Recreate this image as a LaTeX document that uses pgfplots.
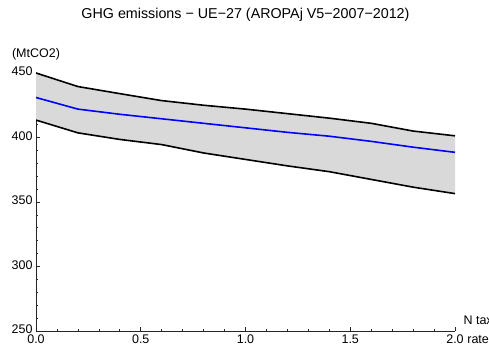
\documentclass[border=0pt]{standalone}
\usepackage{fontspec}
\setmainfont{Liberation Sans}
\usepackage{pgfplots}
\usepackage{pgfplotstable}
\pgfplotsset{compat=1.18}
\usepgfplotslibrary{fillbetween}
\pgfplotstableread{
x    up     mid    low
0.0  450.0  431.0  413.5
0.2  439.5  422.0  403.6
0.4  434.0  418.0  398.5
0.6  428.6  414.5  394.5
0.8  425.0  411.0  388.0
1.0  422.0  407.5  383.0
1.2  418.5  404.0  378.0
1.4  415.0  401.0  373.5
1.6  411.0  397.0  367.5
1.8  405.0  392.5  361.5
2.0  401.3  388.5  356.5
}\data
\begin{document}
\begin{tikzpicture}
\begin{axis}[
  at={(36pt,19pt)}, anchor=south west,
  scale only axis, width=419pt, height=258pt,
  set layers,
  xmin=0, xmax=2, ymin=250, ymax=450,
  axis x line*=bottom, axis y line*=left,
  axis line style={line width=0.9pt, black!85},
  xtick={0,0.5,1,1.5,2}, minor x tick num=4,
  ytick={250,300,350,400,450}, minor y tick num=4,
  major tick length=4pt, minor tick length=2.3pt,
  every tick/.style={black!85, line width=0.7pt},
  tick align=inside,
  tick label style={font=\fontsize{12.5}{14}\selectfont},
  xticklabel style={anchor=north, yshift=-2.5pt, inner sep=1pt},
  yticklabel style={yshift=1.5pt},
  /pgf/number format/assume math mode=true,
  x tick label style={/pgf/number format/.cd, fixed, fixed zerofill, precision=1},
  y tick label style={/pgf/number format/.cd, fixed, precision=0},
  title={GHG emissions − UE−27 (AROPAj V5−2007−2012)},
  title style={at={(axis description cs:0.5,1)}, anchor=center, yshift=52pt, font=\fontsize{14.3}{16}\selectfont},
  xlabel={N tax\\[5pt]rate},
  every axis x label/.style={at={(axis description cs:1,0)}, anchor=west, align=center, xshift=5pt, yshift=1pt, font=\fontsize{12.5}{14}\selectfont},
  ylabel={(MtCO2)},
  every axis y label/.style={at={(axis description cs:0,1)}, anchor=center, yshift=19pt, font=\fontsize{12.5}{14}\selectfont},
]
\addplot[name path=U, black, line width=1.6pt] table[x=x, y=up] {\data};
\addplot[name path=L, black, line width=1.6pt] table[x=x, y=low] {\data};
\addplot[fill=black!15, draw=none] fill between[of=U and L];
\addplot[blue, line width=1.6pt] table[x=x, y=mid] {\data};
\end{axis}
\pgfresetboundingbox
\path (0,0) rectangle (489pt,350pt);
\end{tikzpicture}
\end{document}
